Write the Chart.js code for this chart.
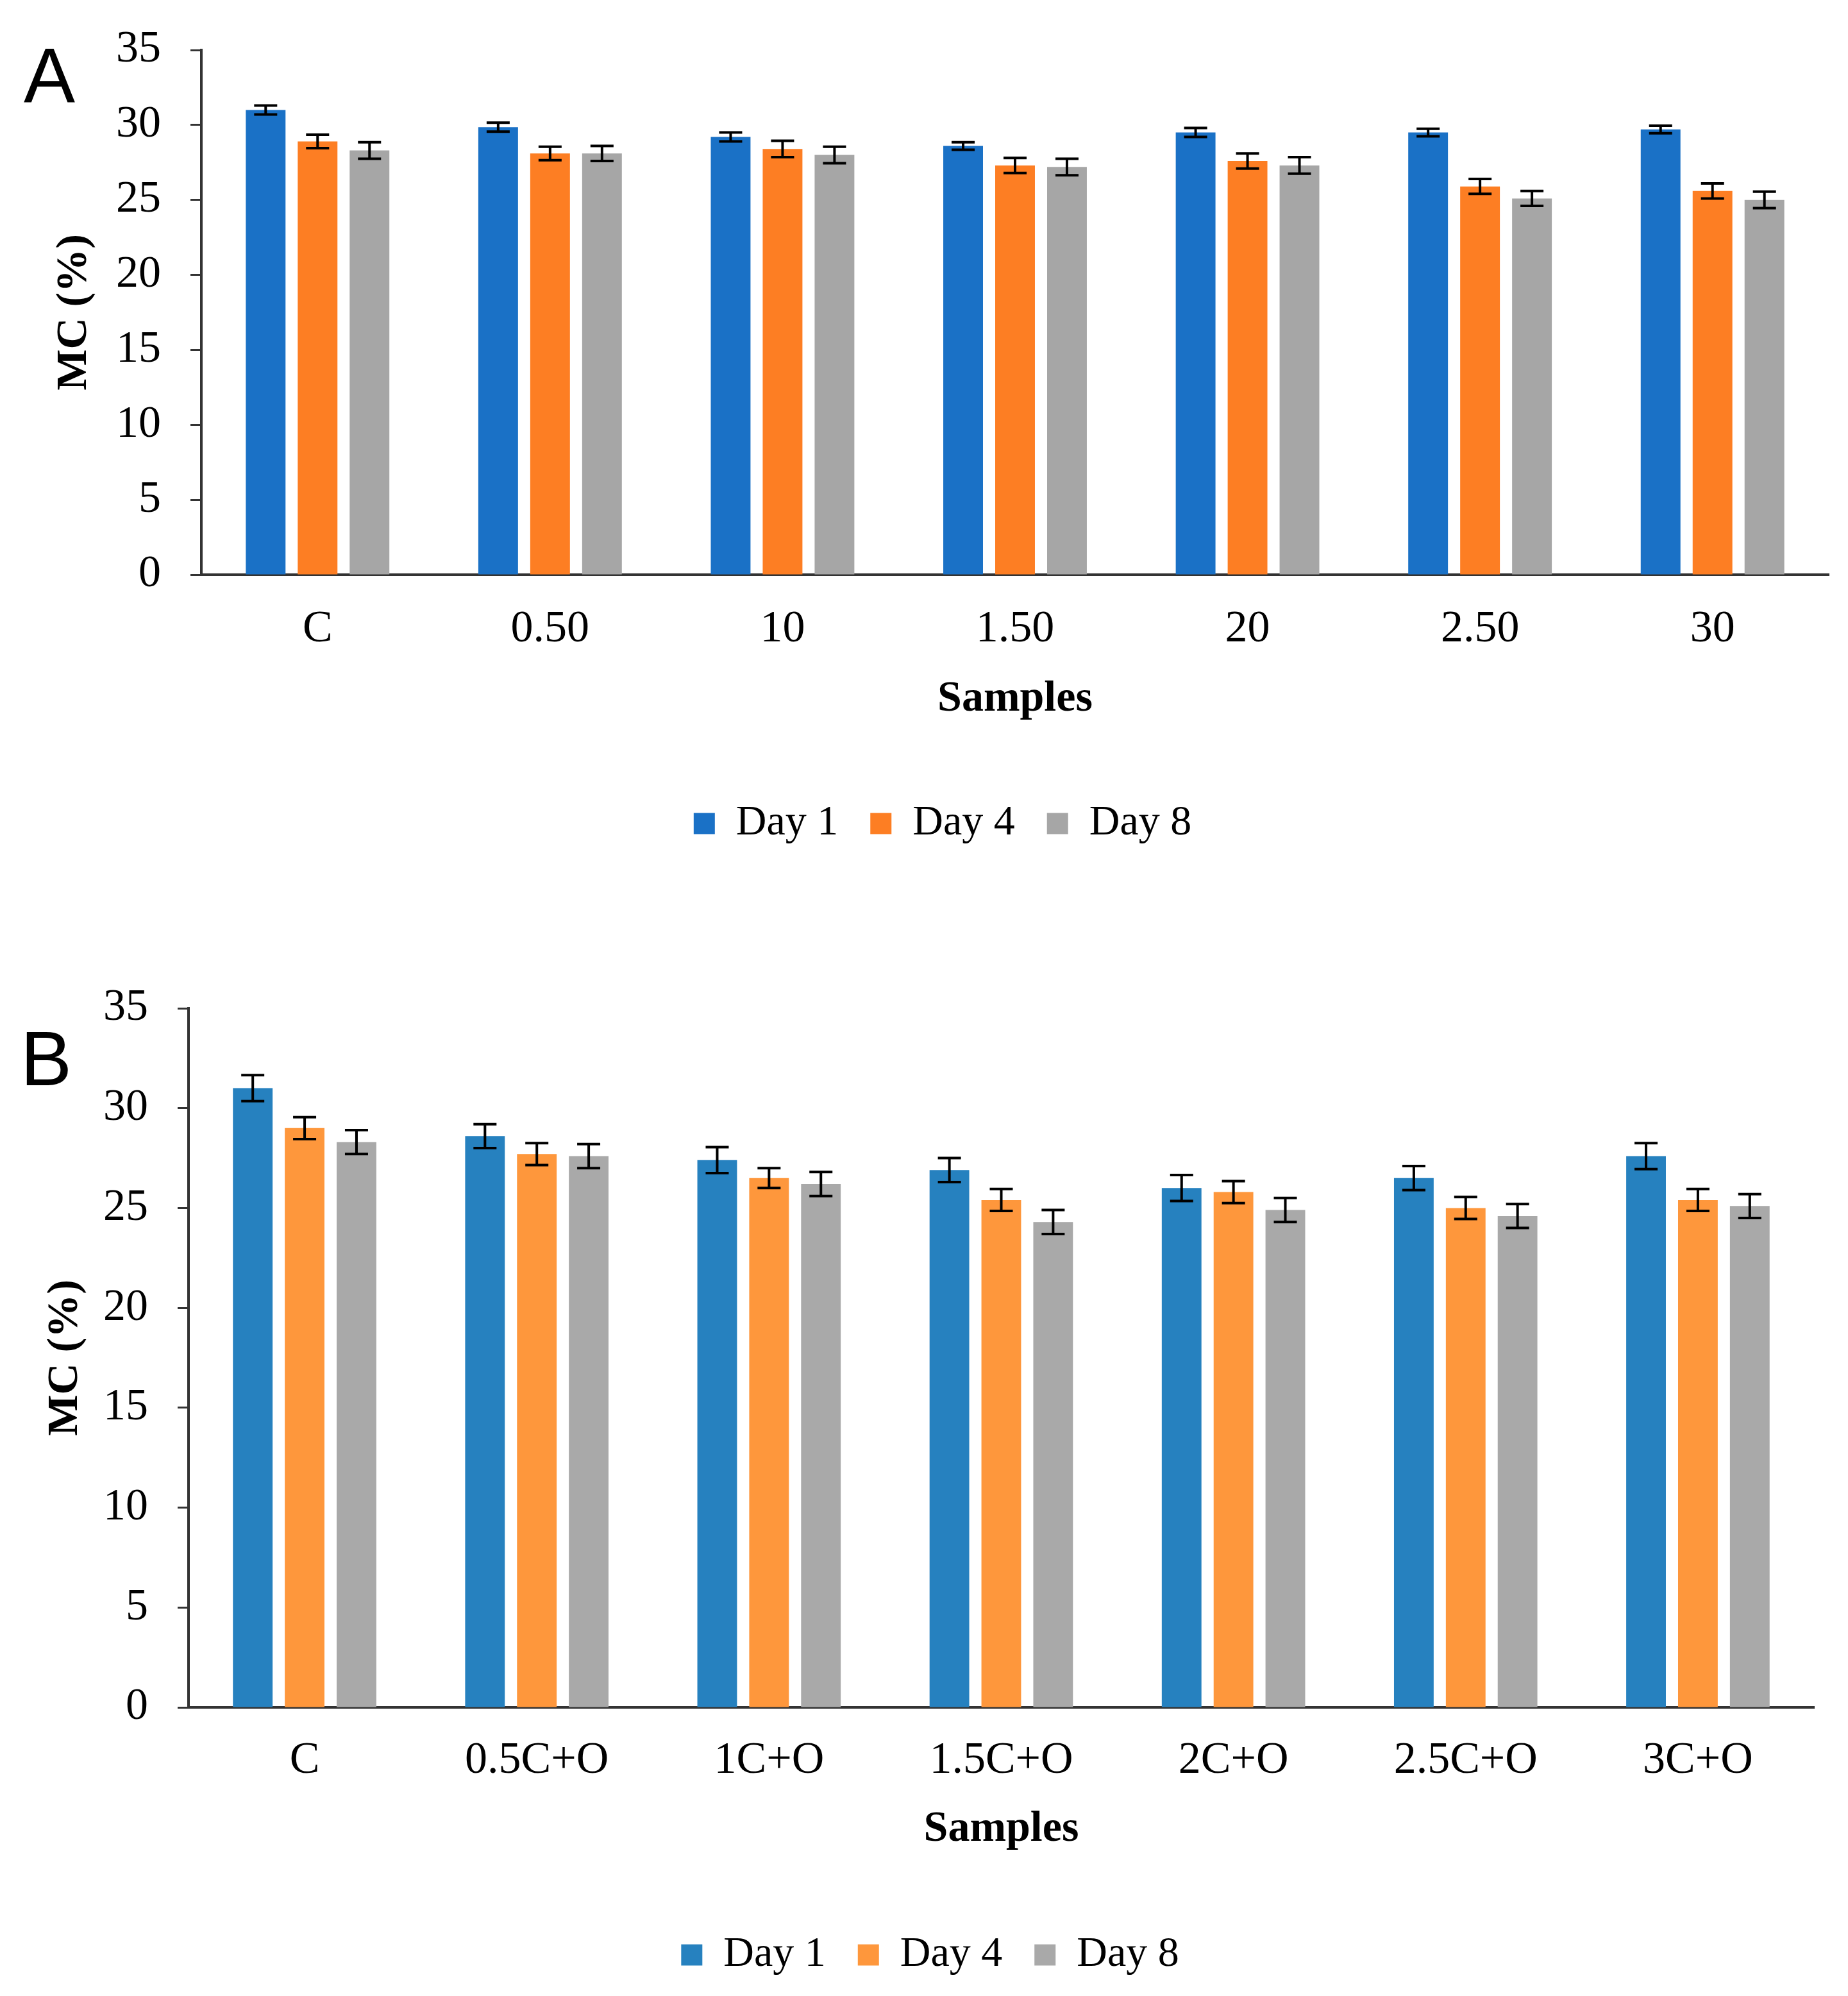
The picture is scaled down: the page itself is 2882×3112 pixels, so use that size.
<!DOCTYPE html>
<html>
<head>
<meta charset="utf-8">
<title>MC (%) by sample</title>
<script src="https://cdn.jsdelivr.net/npm/chart.js@4.4.1/dist/chart.umd.min.js"></script>
<style>
    html, body { margin: 0; padding: 0; background: #fff; overflow: hidden; }
    body { width: 2882px; height: 3112px; position: relative; }
    .panel { position: absolute; left: 0; width: 2882px; }
    #panelA { top: 0; height: 1327px; }
    #panelB { top: 1400px; height: 1691px; }
</style>
</head>
<body>
<div class="panel" id="panelA"><canvas id="chartA"></canvas></div>
<div class="panel" id="panelB"><canvas id="chartB"></canvas></div>

<script>
// Moisture content (MC %) of samples over storage days

const dayLabels = ['Day 1', 'Day 4', 'Day 8'];

// Panel A
const samplesA = ['C', '0.50', '10', '1.50', '20', '2.50', '30'];
const day1A = [31.0, 29.85, 29.2, 28.6, 29.5, 29.5, 29.7];
const day4A = [28.9, 28.1, 28.4, 27.3, 27.6, 25.9, 25.6];
const day8A = [28.3, 28.1, 28.0, 27.2, 27.3, 25.1, 25.0];
const err1A = [0.3, 0.3, 0.3, 0.25, 0.3, 0.25, 0.25];
const err4A = [0.45, 0.45, 0.55, 0.5, 0.5, 0.5, 0.5];
const err8A = [0.55, 0.5, 0.55, 0.55, 0.55, 0.5, 0.55];

// Panel B
const samplesB = ['C', '0.5C+O', '1C+O', '1.5C+O', '2C+O', '2.5C+O', '3C+O'];
const day1B = [31.0, 28.6, 27.4, 26.9, 26.0, 26.5, 27.6];
const day4B = [29.0, 27.7, 26.5, 25.4, 25.8, 25.0, 25.4];
const day8B = [28.3, 27.6, 26.2, 24.3, 24.9, 24.6, 25.1];
const err1B = [0.65, 0.6, 0.65, 0.6, 0.65, 0.6, 0.65];
const err4B = [0.55, 0.55, 0.5, 0.55, 0.55, 0.55, 0.55];
const err8B = [0.6, 0.6, 0.6, 0.6, 0.6, 0.6, 0.6];

// y axis range
const yMin = 0;
const yMax = 35;
const yStep = 5;

const serif = "'Liberation Serif', 'DejaVu Serif', serif";

// Error bars drawn on top of each bar from dataset.errors
const errorBarPlugin = {
    id: 'errorBars',
    afterDatasetsDraw(chart) {
        const ctx = chart.ctx;
        const yScale = chart.scales.y;
        ctx.save();
        ctx.strokeStyle = '#000';
        ctx.lineWidth = 4;
        chart.data.datasets.forEach((ds, i) => {
            const meta = chart.getDatasetMeta(i);
            meta.data.forEach((bar, j) => {
                const v = ds.data[j];
                const e = ds.errors[j];
                const top = yScale.getPixelForValue(v + e);
                const bot = yScale.getPixelForValue(v - e);
                const half = 18;
                ctx.beginPath();
                ctx.moveTo(bar.x, top); ctx.lineTo(bar.x, bot);
                ctx.moveTo(bar.x - half, top); ctx.lineTo(bar.x + half, top);
                ctx.moveTo(bar.x - half, bot); ctx.lineTo(bar.x + half, bot);
                ctx.stroke();
            });
        });
        ctx.restore();
    }
};

// Panel letter (A / B) and a small nudge of the legend to the right
const panelLetterPlugin = {
    id: 'panelLetter',
    afterLayout(chart, args, opts) {
        if (chart.legend && opts.legendShift) {
            chart.legend.left += opts.legendShift;
            chart.legend.right += opts.legendShift;
        }
    },
    afterDraw(chart, args, opts) {
        const ctx = chart.ctx;
        ctx.save();
        ctx.fillStyle = '#000';
        ctx.font = "120px 'Liberation Sans', Arial, sans-serif";
        ctx.textBaseline = 'alphabetic';
        ctx.textAlign = 'left';
        ctx.fillText(opts.text, opts.x, opts.y);
        ctx.restore();
    }
};

function makeChart(canvasId, cfg) {
    const ctx = document.getElementById(canvasId).getContext('2d');
    return new Chart(ctx, {
        type: 'bar',
        data: {
            labels: cfg.labels,
            datasets: dayLabels.map((lbl, i) => ({
                label: lbl,
                data: cfg.values[i],
                errors: cfg.errors[i],
                backgroundColor: cfg.colors[i],
                borderWidth: 0,
                categoryPercentage: 0.67,
                barPercentage: 0.765
            }))
        },
        options: {
            responsive: true,
            maintainAspectRatio: false,
            devicePixelRatio: 1,
            animation: false,
            layout: { padding: { top: cfg.padTop, left: 20, right: cfg.padRight, bottom: 0 } },
            plugins: {
                tooltip: { enabled: false },
                legend: {
                    position: 'bottom',
                    labels: {
                        boxWidth: 33,
                        boxHeight: 33,
                        padding: 50,
                        color: '#000',
                        font: { family: serif, size: 66 }
                    }
                },
                panelLetter: cfg.letter
            },
            scales: {
                x: {
                    grid: { display: false, drawTicks: false },
                    border: { display: true, color: '#333', width: 4 },
                    ticks: {
                        color: '#000',
                        padding: cfg.xTickPad,
                        maxRotation: 0,
                        font: { family: serif, size: 70 }
                    },
                    title: {
                        display: true,
                        text: 'Samples',
                        color: '#000',
                        padding: { top: 10, bottom: cfg.xTitlePadBottom },
                        font: { family: serif, size: 68, weight: 'bold' }
                    },
                    afterFit(scale) { scale.height = cfg.xHeight; }
                },
                y: {
                    min: yMin,
                    max: yMax,
                    grid: {
                        drawOnChartArea: false,
                        drawTicks: true,
                        tickLength: 17,
                        tickColor: '#333',
                        tickWidth: 3
                    },
                    border: { display: true, color: '#333', width: 4 },
                    ticks: {
                        stepSize: yStep,
                        color: '#000',
                        padding: 46,
                        font: { family: serif, size: 70 }
                    },
                    title: {
                        display: true,
                        text: 'MC (%)',
                        color: '#000',
                        padding: { top: cfg.yTitlePadTop, bottom: 10 },
                        font: { family: serif, size: 68, weight: 'bold' }
                    },
                    afterFit(scale) {
                        scale.width = cfg.yWidth;
                        scale.paddingTop = 0;
                        scale.paddingBottom = 0;
                    }
                }
            }
        },
        plugins: [errorBarPlugin, panelLetterPlugin]
    });
}

makeChart('chartA', {
    labels: samplesA,
    values: [day1A, day4A, day8A],
    errors: [err1A, err4A, err8A],
    colors: ['#1A71C6', '#FD7E23', '#A6A6A6'],
    padTop: 78,
    padRight: 30,
    xTickPad: 44,
    xHeight: 305,
    xTitlePadBottom: 70,
    yWidth: 294,
    yTitlePadTop: 56,
    letter: { text: 'A', x: 37, y: 159, legendShift: 34 }
});

makeChart('chartB', {
    labels: samplesB,
    values: [day1B, day4B, day8B],
    errors: [err1B, err4B, err8B],
    colors: ['#2681BF', '#FE973C', '#A9A9A9'],
    padTop: 172,
    padRight: 53,
    xTickPad: 42,
    xHeight: 303,
    xTitlePadBottom: 72,
    yWidth: 274,
    yTitlePadTop: 42,
    letter: { text: 'B', x: 32, y: 292, legendShift: 26 }
});
</script>
</body>
</html>
